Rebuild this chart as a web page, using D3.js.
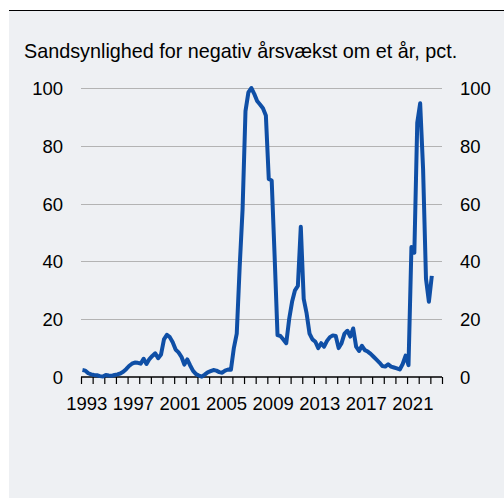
<!DOCTYPE html>
<html>
<head>
<meta charset="utf-8">
<script src="https://cdn.jsdelivr.net/npm/d3@7"></script>
<style>
  html, body { margin: 0; padding: 0; background: #ffffff; }
  svg { display: block; font-family: "Liberation Sans", Arial, sans-serif; }
</style>
</head>
<body>
<svg id="chart" width="504" height="500"></svg>
<script>
// Title
const title = "Sandsynlighed for negativ årsvækst om et år, pct.";

// Quarterly series, first observation 1993 Q1
const startYear = 1993;
const values = [
  2.4, 2.2, 1.3, 0.9, 0.7, 0.6, 0.3, 0.2, 0.7, 0.5,
  0.4, 0.7, 0.9, 1.2, 1.8, 2.7, 3.8, 4.6, 5.0, 4.9,
  4.6, 6.3, 4.5, 6.2, 7.3, 8.2, 6.5, 7.8, 13.0, 14.6,
  13.8, 12.0, 9.5, 8.5, 7.0, 4.3, 6.1, 4.0, 2.1, 1.0,
  0.5, 0.1, 0.8, 1.6, 2.0, 2.4, 2.2, 1.7, 1.5, 2.2,
  2.6, 2.5, 10.0, 15.0, 38.0, 58.0, 92.0, 98.5, 100.0, 98.0,
  95.5, 94.3, 93.0, 90.5, 68.5, 68.0, 42.0, 14.5, 14.2, 13.0,
  11.7, 20.0, 26.0, 30.0, 31.5, 52.0, 27.0, 22.0, 15.0, 13.0,
  12.2, 10.0, 11.7, 10.5, 12.5, 13.8, 14.4, 14.2, 10.0, 11.7,
  15.0, 16.0, 14.0, 16.8, 10.5, 9.0, 10.8, 9.3, 8.8, 8.0,
  7.0, 6.0, 5.0, 3.8, 3.6, 4.4, 3.6, 3.3, 3.0, 2.6,
  4.5, 7.4, 4.1, 45.0, 43.0, 88.0, 94.7, 72.0, 34.0, 26.0,
  35.0
];

// Axis definitions
const xDomain = [1993, 2024];
const xLabelYears = [1993, 1997, 2001, 2005, 2009, 2013, 2017, 2021];
const yTicks = [0, 20, 40, 60, 80, 100];

const data = values.map((v, i) => ({ t: startYear + (i + 0.5) / 4, v }));

const svg = d3.select("#chart");
const W = 504, H = 500;

// panel background
svg.append("rect").attr("x", 9).attr("y", 10).attr("width", W - 9).attr("height", 488)
  .attr("fill", "#eef0f3");
svg.append("line").attr("x1", 9).attr("x2", W).attr("y1", 10.5).attr("y2", 10.5)
  .attr("stroke", "#000").attr("stroke-width", 1.2);

const x = d3.scaleLinear().domain(xDomain).range([81, 442]);
const y = d3.scaleLinear().domain([0, 100]).range([377, 88]);

// title
svg.append("text").attr("x", 24).attr("y", 57.5)
  .attr("font-size", 19.8).attr("fill", "#000").text(title);

// gridlines
svg.append("g").selectAll("line").data(yTicks.filter(d => d > 0)).join("line")
  .attr("x1", 81).attr("x2", 442)
  .attr("y1", d => Math.round(y(d)) + 0.5).attr("y2", d => Math.round(y(d)) + 0.5)
  .attr("stroke", "#b3b3b3").attr("stroke-width", 1);

// left / right labels
const yLeft = d3.axisLeft(y).tickValues(yTicks).tickSize(0).tickPadding(0);
const gl = svg.append("g").attr("transform", "translate(63,0)").call(yLeft);
gl.select(".domain").remove();
gl.selectAll("text").attr("font-size", 18.5).attr("fill", "#000")
  .attr("font-family", "Liberation Sans, Arial, sans-serif").attr("dy", "0.35em");

const yRight = d3.axisRight(y).tickValues(yTicks).tickSize(0).tickPadding(0);
const gr = svg.append("g").attr("transform", "translate(460,0)").call(yRight);
gr.select(".domain").remove();
gr.selectAll("text").attr("font-size", 18.5).attr("fill", "#000")
  .attr("font-family", "Liberation Sans, Arial, sans-serif").attr("dy", "0.35em");

// x axis: yearly ticks
const yearTicks = d3.range(xDomain[0], xDomain[1] + 1);
const xAxis = d3.axisBottom(x).tickValues(yearTicks).tickSize(7).tickFormat("");
const gx = svg.append("g").attr("transform", "translate(0,377)").call(xAxis);
gx.select(".domain").attr("stroke", "#000").attr("stroke-width", 1.4)
  .attr("d", `M${x(xDomain[0])},0H${x(xDomain[1])}`);
gx.selectAll(".tick line").attr("stroke", "#000").attr("stroke-width", 1.2);

svg.append("g").selectAll("text").data(xLabelYears).join("text")
  .attr("x", d => x(d + 0.5)).attr("y", 410)
  .attr("text-anchor", "middle").attr("font-size", 18.5).attr("fill", "#000")
  .text(d => d);

// line
const line = d3.line().x(d => x(d.t)).y(d => y(d.v));
svg.append("path").datum(data)
  .attr("d", line).attr("fill", "none")
  .attr("stroke", "#0f4fa6").attr("stroke-width", 4)
  .attr("stroke-linejoin", "round").attr("stroke-linecap", "butt");
</script>
</body>
</html>
